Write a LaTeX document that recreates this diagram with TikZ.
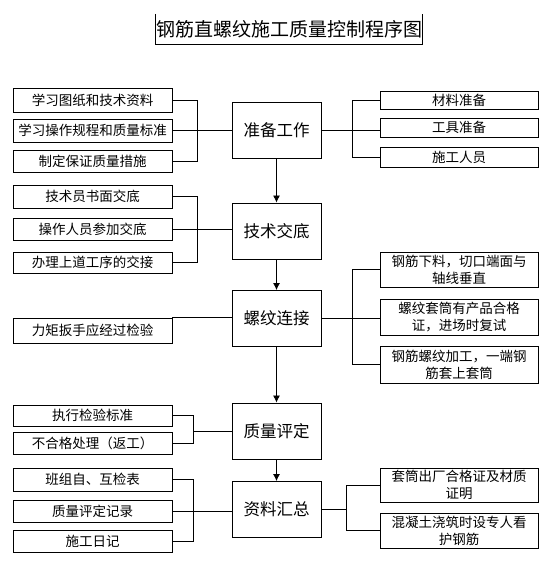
\documentclass[tikz,border=0pt]{standalone}
\usepackage{fontspec}
\setmainfont{Noto Sans CJK SC}
\usetikzlibrary{arrows.meta}
\begin{document}
\begin{tikzpicture}[x=1pt,y=-1pt,
  side/.style={draw, line width=0.8pt, minimum width=159pt, inner sep=0pt,
    font=\fontsize{13.5}{17}\selectfont, align=center},
  rside/.style={side, minimum width=158pt},
  mainbox/.style={draw, line width=0.9pt, minimum width=89pt, minimum height=56pt,
    inner sep=0pt, font=\fontsize{16.5}{20}\selectfont},
  conn/.style={line width=0.8pt},
  flow/.style={line width=0.8pt, -{Latex[length=7pt,width=7pt]}}
]
\useasboundingbox (0,0) rectangle (554,561);

% title
\node[minimum width=258pt, minimum height=30pt, inner sep=0pt,
  font=\fontsize{19}{22}\selectfont] (title) at (289,29) {钢筋直螺纹施工质量控制程序图};
\draw[line width=0.9pt] (title.north west) -- (title.south west) -- (title.south east) -- (title.north east);

% main column
\node[mainbox] (zb) at (276.5,130) {准备工作};
\node[mainbox] (jd) at (276.5,231) {技术交底};
\node[mainbox] (lw) at (276.5,318.5) {螺纹连接};
\node[mainbox] (zl) at (276.5,431) {质量评定};
\node[mainbox] (hz) at (276.5,509.5) {资料汇总};

\draw[flow] (zb) -- (jd);
\draw[flow] (jd) -- (lw);
\draw[flow] (lw) -- (zl);
\draw[flow] (zl) -- (hz);

% left boxes
\node[side, minimum height=24pt] (L1) at (92.5,100) {学习图纸和技术资料};
\node[side, minimum height=23pt] (L2) at (92.5,130.5) {学习操作规程和质量标准};
\node[side, minimum height=22pt] (L3) at (92.5,161) {制定保证质量措施};
\node[side, minimum height=23pt] (L4) at (92.5,196.5) {技术员书面交底};
\node[side, minimum height=22pt] (L5) at (92.5,229) {操作人员参加交底};
\node[side, minimum height=21pt] (L6) at (92.5,262.5) {办理上道工序的交接};
\node[side, minimum height=25pt] (L7) at (92.5,330.5) {力矩扳手应经过检验};
\node[side, minimum height=21pt] (L8) at (92.5,415.5) {执行检验标准};
\node[side, minimum height=22pt] (L9) at (92.5,443) {不合格处理（返工）};
\node[side, minimum height=23pt] (L10) at (92.5,479.5) {班组自、互检表};
\node[side, minimum height=22pt] (L11) at (92.5,511) {质量评定记录};
\node[side, minimum height=22pt] (L12) at (92.5,541) {施工日记};

% right boxes
\node[rside, minimum height=18pt] (R1) at (459,100.5) {材料准备};
\node[rside, minimum height=19pt] (R2) at (459,127.5) {工具准备};
\node[rside, minimum height=20pt] (R3) at (459,157) {施工人员};
\node[rside, minimum height=35pt] (R4) at (459,269.5) {钢筋下料，切口端面与\\轴线垂直};
\node[rside, minimum height=36pt] (R5) at (459,317) {螺纹套筒有产品合格\\证，进场时复试};
\node[rside, minimum height=37pt] (R6) at (459,364.5) {钢筋螺纹加工，一端钢\\筋套上套筒};
\node[rside, minimum height=34pt] (R7) at (459,485) {套筒出厂合格证及材质\\证明};
\node[rside, minimum height=35pt] (R8) at (459,530.5) {混凝土浇筑时设专人看\\护钢筋};

% left brackets
\draw[conn] (L1.east) -- ++(25,0) |- (L3.east);
\draw[conn] (L2.east) -- (L2.east -| zb.west);
\draw[conn] (L4.east) -- ++(25,0) |- (L6.east);
\draw[conn] (L5.east) -- (L5.east -| jd.west);
\draw[conn] (L7.north east) -- (L7.north east -| lw.west);
\draw[conn] (L8.east) -- ++(21,0) coordinate (b4) |- (L9.east);
\draw[conn] (b4 |- zl.west) -- (zl.west);
\draw[conn] (L10.east) -- ++(21,0) |- (L12.east);
\draw[conn] (L11.east) -- (L11.east -| hz.west);

% right brackets
\draw[conn] (R1.west) -- ++(-27,0) |- (R3.west);
\draw[conn] (zb.east) -- (zb.east -| R2.west);
\draw[conn] (R4.west) -- ++(-27,0) |- (R6.west);
\draw[conn] (lw.east) -- (lw.east -| R5.west);
\draw[conn] (R7.west) -- ++(-33,0) coordinate (b5) |- (R8.west);
\draw[conn] (hz.east) -- (hz.east -| b5);
\end{tikzpicture}
\end{document}
